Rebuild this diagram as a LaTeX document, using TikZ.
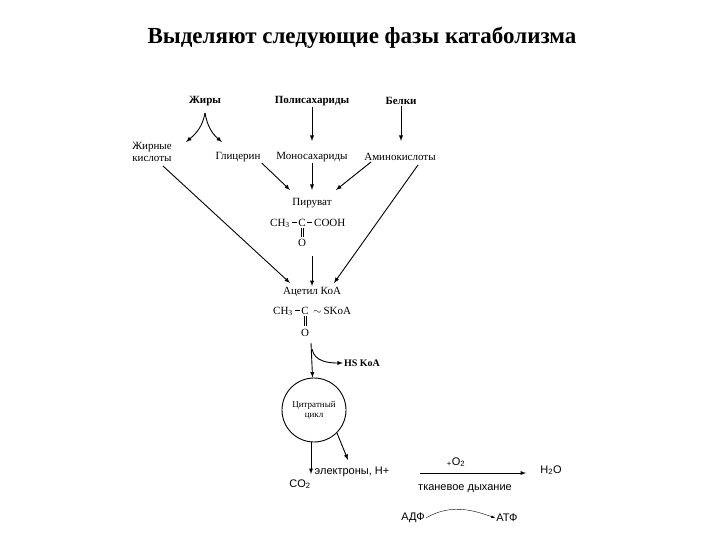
\documentclass[tikz,border=0pt]{standalone}
\usepackage{fontspec}
\setmainfont{Liberation Serif}
\newfontfamily\sansf{Liberation Sans}
\begin{document}
\begin{tikzpicture}[x=1pt,y=-1pt,
  lab/.style={font=\fontsize{11}{12}\selectfont,inner sep=1pt},
  blab/.style={font=\fontsize{11}{12}\selectfont\bfseries,inner sep=1pt},
  slab/.style={font=\fontsize{11}{12}\selectfont\sansf,inner sep=1pt},
  arr/.style={-latex,line width=0.9pt},
  dbl/.style={line width=0.8pt}]
\useasboundingbox (0,0) rectangle (720,540);
\node[font=\fontsize{23}{24}\selectfont\bfseries] (title) at (362,38) {Выделяют следующие фазы катаболизма};
\node[blab] (fat) at (205,101) {Жиры};
\node[blab] (poly) at (312,101) {Полисахариды};
\node[blab] (prot) at (401,101) {Белки};
\node[lab,align=left] (fa) at (152,152) {Жирные\\кислоты};
\node[lab] (gly) at (238,157) {Глицерин};
\node[lab] (mono) at (312,157) {Моносахариды};
\node[lab] (amino) at (400,157) {Аминокислоты};
\coordinate (fb) at (205,113);
\draw[arr] (fb) to[out=-100,in=40] (186,142);
\draw[arr] (fb) to[out=-80,in=140] (222,142);
\draw[arr] (poly) -- (312,141);
\draw[arr] (prot) -- (401,141);
\node[lab] (pyr) at (312,203) {Пируват};
\node[lab,anchor=base east] (pch) at (291,226) {CH\textsubscript{3}};
\node[lab,anchor=base] (pc) at (302,226) {C};
\node[lab,anchor=base west] (pco) at (313,226) {COOH};
\node[lab] (po) at (302,243) {O};
\draw (292,222) -- (297,222) (307,222) -- (312,222);
\draw[dbl] (301,228) -- (301,237) (303.5,228) -- (303.5,237);
\draw[arr] (gly.south east) -- (290,190);
\draw[arr] (mono) -- (312,190);
\draw[arr] (amino.south west) ++(8,0) -- (336,190);
\node[lab] (acet) at (312,292) {Ацетил КоА};
\node[lab,anchor=base east] (ach) at (294,314) {CH\textsubscript{3}};
\node[lab,anchor=base] (ac) at (305,314) {C};
\node[lab,anchor=base west] (ask) at (312,314) {$\sim$\,SKoA};
\node[lab] (ao) at (305,333) {O};
\draw (295,310) -- (300,310);
\draw[dbl] (304,316) -- (304,326) (306.5,316) -- (306.5,326);
\draw[arr] (312,256) -- (acet);
\draw[arr] (163,166) -- (290,283);
\draw[arr] (418,165) -- (334,283);
\node[blab,font=\fontsize{10}{11}\selectfont\bfseries] (hs) at (362,363) {HS KoA};
\node[circle,draw,line width=0.9pt,minimum size=64pt,align=center,inner sep=0pt,font=\fontsize{9}{10}\selectfont] (cyc) at (314,410) {Цитратный\\цикл};
\draw[arr] (311,343) -- (cyc);
\draw[arr] (312,349) to[out=-80,in=180] (hs);
\node[slab] (co2) at (300,484) {CO\textsubscript{2}};
\node[slab] (el) at (352,472) {электроны, Н+};
\node[slab] (h2o) at (551,470) {H\textsubscript{2}O};
\node[slab] (o2) at (456,462) {\textsubscript{+}O\textsubscript{2}};
\node[slab] (tk) at (465,489) {тканевое дыхание};
\node[slab] (adp) at (413,518) {АДФ};
\node[slab] (atp) at (507,518) {АТФ};
\draw[arr] (311,442) -- (311,474);
\draw[arr] (cyc.-45) -- (348,460);
\draw[arr] (420,473) -- (526,473);
\draw[-latex] (adp.east) to[out=30,in=160] (atp.west);
\end{tikzpicture}
\end{document}
